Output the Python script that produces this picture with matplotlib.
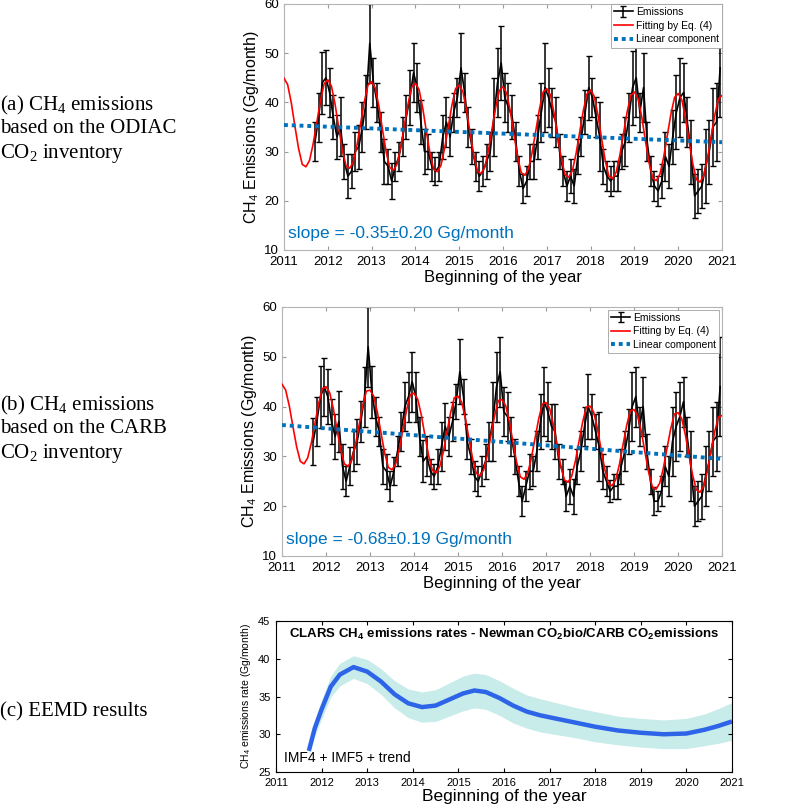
import numpy as np
import pandas as pd
import matplotlib
matplotlib.use("Agg")
import matplotlib.pyplot as plt

plt.rcParams["font.family"] = ["Liberation Sans", "DejaVu Sans"]
plt.rcParams["mathtext.default"] = "regular"

# monthly observations, Sep 2011 .. Dec 2020 (mid-month)
obs_months = pd.period_range("2011-09", "2020-12", freq="M")

ch4_odiac = [
    32, 37, 44,
    45, 42, 37, 33, 35, 28, 25, 26, 30, 31, 35, 40,
    52, 44, 40, 34, 28, 27, 24, 27, 29, 33, 37, 41,
    46, 43, 36, 30, 30, 27, 26, 27, 33, 36, 33, 38,
    41, 47, 42, 35, 31, 27, 25, 26, 28, 30, 37, 44,
    48, 41, 39, 37, 32, 26, 22.5, 24, 28, 28, 33, 38,
    43, 41, 38, 36, 30, 26, 23, 25, 23, 29, 33, 38,
    43, 41, 37, 33, 27, 25, 24, 25, 25, 30, 32, 37,
    43, 45, 38, 43, 32, 26, 23, 22, 24, 29, 27, 33,
    38, 41, 42, 36, 30, 21, 22, 23, 27, 30, 35, 36,
    47,
]
err_odiac = [
    4, 5, 6.3,
    5.6, 5, 4.5, 4.5, 6, 3.5, 4.5, 3.5, 4, 4.5, 5, 5.5,
    8, 5, 4, 4, 4.5, 3.5, 3.7, 3, 3, 4, 4.5, 5.5,
    6, 5, 4.5, 4.5, 3.5, 3, 2.8, 3, 4.5, 5, 4, 4,
    4, 7, 4, 4, 3.5, 3, 3, 3, 3.5, 4, 8, 7,
    7.5, 5, 5, 4.5, 4, 3, 3, 3, 3.5, 3.5, 4.5, 6,
    9, 6, 5, 5, 3.5, 3, 3, 3.5, 3.5, 3.5, 4, 4.5,
    6.5, 4, 4, 7, 3.5, 3, 3, 3, 3, 3.5, 5, 5,
    7.5, 8, 4, 7, 4, 3, 3, 3, 3.5, 5, 4.5, 5.5,
    7.5, 8, 6, 5, 6.5, 4.5, 4.5, 4.5, 7.5, 6.5, 8, 8,
    10,
]

ch4_carb = [
    33, 37, 42,
    44, 42, 37, 34, 37, 28, 25, 28, 31, 33, 37, 42,
    52, 43, 38, 35, 28, 27, 24, 27, 31, 35, 40, 42,
    45, 42, 34, 29, 30, 27, 26, 28, 32, 36, 34, 37,
    41, 47, 42, 33, 30, 26, 25, 27, 29, 33, 37, 44,
    47, 39, 38, 34, 30, 25, 21, 24, 27, 27, 31, 37,
    41, 39, 36, 35, 29, 27, 22, 24, 22, 28, 31, 36,
    40, 38, 35, 32, 27, 25, 23, 24, 24, 28, 31, 35,
    40, 42, 36, 40, 31, 25, 21, 21, 23, 28, 26, 33,
    36, 38, 41, 34, 28, 20, 21, 22, 26, 29, 33, 34,
    44,
]
err_carb = [
    4.8, 5, 6.2,
    5.8, 5.5, 4.5, 4.5, 6.2, 4.5, 3, 3.8, 4, 4.5, 4.2, 6,
    8, 5.2, 4, 3, 3.5, 3.5, 3, 2.8, 3, 4, 5, 5,
    6, 5, 4, 4.2, 4, 2.5, 2.5, 3.5, 5, 4.8, 4, 4,
    3.5, 6.5, 3.5, 3.5, 3.5, 3, 3, 3, 3.5, 4, 8, 7,
    7, 5, 5, 4, 3.5, 3, 3, 3, 3.5, 3, 4, 5.5,
    7, 6, 4.5, 5.5, 3.5, 2.5, 3, 3.5, 3.5, 3.5, 4, 4,
    6.5, 4.5, 3.5, 7, 3.5, 3, 2.2, 2.5, 2.5, 3.5, 4, 4.5,
    7, 6, 4, 6, 3.5, 2.5, 2.8, 2, 3, 4, 4, 7,
    7, 7, 5, 4, 7, 4, 4, 4.5, 6, 6, 7, 7,
    10,
]

# fitted curve (Eq. 4), Jan 2011 .. Jan 2021
fit_months = pd.period_range("2011-01", "2021-01", freq="M")
fit_odiac = [
    44.9, 43.6, 39.9, 35.1, 30.6, 27.4, 26.9, 28.2, 31.6, 36.0, 40.4, 43.8,
    44.6, 43.3, 39.6, 34.8, 30.3, 27.1, 26.6, 27.9, 31.3, 35.7, 40.1, 43.5,
    44.2, 42.9, 39.2, 34.4, 29.9, 26.7, 26.2, 27.5, 30.9, 35.3, 39.7, 43.1,
    43.9, 42.6, 38.9, 34.1, 29.6, 26.4, 25.9, 27.2, 30.6, 35.0, 39.4, 42.8,
    43.5, 42.2, 38.5, 33.7, 29.2, 26.0, 25.5, 26.8, 30.2, 34.6, 39.0, 42.4,
    43.2, 41.9, 38.2, 33.4, 28.9, 25.7, 25.2, 26.5, 29.9, 34.3, 38.7, 42.1,
    42.8, 41.5, 37.8, 33.0, 28.5, 25.3, 24.8, 26.1, 29.5, 33.9, 38.3, 41.7,
    42.5, 41.2, 37.5, 32.7, 28.2, 25.0, 24.5, 25.8, 29.2, 33.6, 38.0, 41.4,
    42.1, 40.8, 37.1, 32.3, 27.8, 24.6, 24.1, 25.4, 28.8, 33.2, 37.6, 41.0,
    41.8, 40.5, 36.8, 32.0, 27.5, 24.3, 23.8, 25.1, 28.5, 32.9, 37.3, 40.7,
    41.4,
]
fit_carb = [
    44.5, 43.3, 40.1, 35.9, 31.9, 29.0, 28.5, 29.7, 32.7, 36.7, 40.6, 43.6,
    44.0, 42.8, 39.6, 35.4, 31.4, 28.5, 28.0, 29.2, 32.2, 36.2, 40.1, 43.1,
    43.3, 42.1, 38.9, 34.7, 30.7, 27.8, 27.3, 28.5, 31.5, 35.5, 39.4, 42.4,
    42.7, 41.5, 38.3, 34.1, 30.1, 27.2, 26.7, 27.9, 30.9, 34.9, 38.8, 41.8,
    42.1, 40.9, 37.7, 33.5, 29.5, 26.6, 26.1, 27.3, 30.3, 34.3, 38.2, 41.2,
    41.4, 40.2, 37.0, 32.8, 28.8, 25.9, 25.4, 26.6, 29.6, 33.6, 37.5, 40.5,
    40.8, 39.6, 36.4, 32.2, 28.2, 25.3, 24.8, 26.0, 29.0, 33.0, 36.9, 39.9,
    40.1, 38.9, 35.7, 31.5, 27.5, 24.6, 24.1, 25.3, 28.3, 32.3, 36.2, 39.2,
    39.4, 38.2, 35.0, 30.8, 26.8, 23.9, 23.4, 24.6, 27.6, 31.6, 35.5, 38.5,
    38.8, 37.6, 34.4, 30.2, 26.2, 23.3, 22.8, 24.0, 27.0, 31.0, 34.9, 37.9,
    38.2,
]

# linear component end points
lin_years = [2011, 2021]
lin_odiac = [35.4, 31.9]
lin_carb = [36.3, 29.5]

# EEMD result (IMF4 + IMF5 + trend) with uncertainty band
eemd_years = [2011.72, 2011.85, 2012.0, 2012.2, 2012.4, 2012.7, 2013.0, 2013.3,
              2013.6, 2013.9, 2014.2, 2014.5, 2014.8, 2015.1, 2015.35, 2015.6,
              2015.9, 2016.2, 2016.5, 2016.8, 2017.2, 2017.6, 2018.0, 2018.5,
              2019.0, 2019.5, 2020.0, 2020.4, 2020.7, 2021.0]
eemd_rate = [27.8, 30.8, 33.3, 36.3, 37.9, 38.9, 38.3, 37.0, 35.3, 34.1, 33.6,
             33.8, 34.6, 35.4, 35.8, 35.6, 34.8, 33.8, 33.0, 32.5, 32.0, 31.5,
             31.0, 30.5, 30.2, 30.0, 30.1, 30.6, 31.1, 31.7]
eemd_spread = [0.6, 1.0, 1.3, 1.4, 1.5, 1.5, 1.6, 1.7, 1.8, 1.9, 2.0, 2.1, 2.2,
               2.3, 2.3, 2.3, 2.3, 2.3, 2.2, 2.2, 2.1, 2.0, 2.0, 1.9, 1.9, 1.9,
               2.0, 2.1, 2.3, 2.5]

years = list(range(2011, 2022))


def decimal_year(periods, offset):
    return periods.year + (periods.month - 1 + offset) / 12.0


t_obs = decimal_year(obs_months, 0.5)
t_fit = decimal_year(fit_months, 0.0)

fig = plt.figure(figsize=(8, 8.1), dpi=100)
ax_a = fig.add_axes([0.355, 0.6914, 0.5475, 0.3037])
ax_b = fig.add_axes([0.3525, 0.3136, 0.55, 0.3074])
ax_c = fig.add_axes([0.345, 0.0469, 0.57, 0.1864])

blue = "#0072BD"
for ax, obs, err, fit, lin, slope, pad in [
    (ax_a, ch4_odiac, err_odiac, fit_odiac, lin_odiac, "slope = -0.35\u00b10.20 Gg/month", 0.0),
    (ax_b, ch4_carb, err_carb, fit_carb, lin_carb, "slope = -0.68\u00b10.19 Gg/month", 0.25),
]:
    h_obs = ax.errorbar(t_obs, obs, yerr=err, color="black", lw=1.2, elinewidth=1.1,
                        capsize=2, capthick=1.0, zorder=2)
    h_fit, = ax.plot(t_fit, fit, color="red", lw=1.2, zorder=3)
    h_lin, = ax.plot(lin_years, lin, color=blue, lw=2.8, linestyle=(0, (1, 1)), zorder=4)
    ax.text(2011.1, 13.4, slope, color=blue, fontsize=12.5, va="center")
    ax.set_xlim(2011, 2021)
    ax.set_ylim(10, 60)
    ax.set_xticks(years)
    ax.set_yticks(range(10, 61, 10))
    ax.set_xlabel("Beginning of the year", fontsize=12, labelpad=1)
    ax.set_ylabel("CH$_4$ Emissions (Gg/month)", fontsize=11.5, labelpad=2)
    ax.tick_params(direction="in", top=True, right=True, length=3,
                   color="#9a9a9a", labelsize=9.5)
    ax.tick_params(axis="x", pad=4.5)
    ax.tick_params(axis="y", pad=3.5)
    for sp in ax.spines.values():
        sp.set_color("#b5b5b5")
        sp.set_linewidth(0.8)
    leg = ax.legend([h_obs, h_fit, h_lin],
                    ["Emissions", "Fitting by Eq. (4)", "Linear component"],
                    loc="upper right", fontsize=7.5, fancybox=False, framealpha=1,
                    borderaxespad=pad, handlelength=1.8, labelspacing=0.35,
                    borderpad=0.3, handletextpad=0.3)
    leg.get_frame().set_edgecolor("#a0a0a0")
    leg.get_frame().set_linewidth(0.6)

lo = np.array(eemd_rate) - np.array(eemd_spread)
hi = np.array(eemd_rate) + np.array(eemd_spread)
ax_c.fill_between(eemd_years, lo, hi, color="#c8ece9", lw=0)
ax_c.plot(eemd_years, eemd_rate, color="#2d64e8", lw=3.2, solid_capstyle="butt")
ax_c.set_xlim(2011, 2021)
ax_c.set_ylim(25, 45)
ax_c.set_xticks(years)
ax_c.set_yticks(range(25, 46, 5))
ax_c.tick_params(direction="in", top=True, right=True, length=3, labelsize=8, pad=4)
ax_c.set_xlabel("Beginning of the year", fontsize=12.5, labelpad=1)
ax_c.set_ylabel("CH$_4$ emissions rate (Gg/month)", fontsize=7.5, labelpad=4)
ax_c.text(0.5, 0.91, "CLARS CH$_4$ emissions rates - Newman CO$_2$bio/CARB CO$_2$emissions",
          transform=ax_c.transAxes, ha="center", va="center", fontsize=9.5,
          fontweight="bold")
ax_c.text(2011.17, 26.9, "IMF4 + IMF5 + trend", fontsize=10, va="center")

serif = ["Liberation Serif", "DejaVu Serif"]
fig.text(0.0, 1 - 129 / 810, "(a) CH$_4$ emissions\nbased on the ODIAC\nCO$_2$ inventory",
         family=serif, fontsize=15, va="center", ha="left", linespacing=1.2)
fig.text(0.0, 1 - 429 / 810, "(b) CH$_4$ emissions\nbased on the CARB\nCO$_2$ inventory",
         family=serif, fontsize=15, va="center", ha="left", linespacing=1.2)
fig.text(0.0, 1 - 712 / 810, "(c) EEMD results",
         family=serif, fontsize=15, va="center", ha="left")

fig.savefig("out.png", dpi=100)
